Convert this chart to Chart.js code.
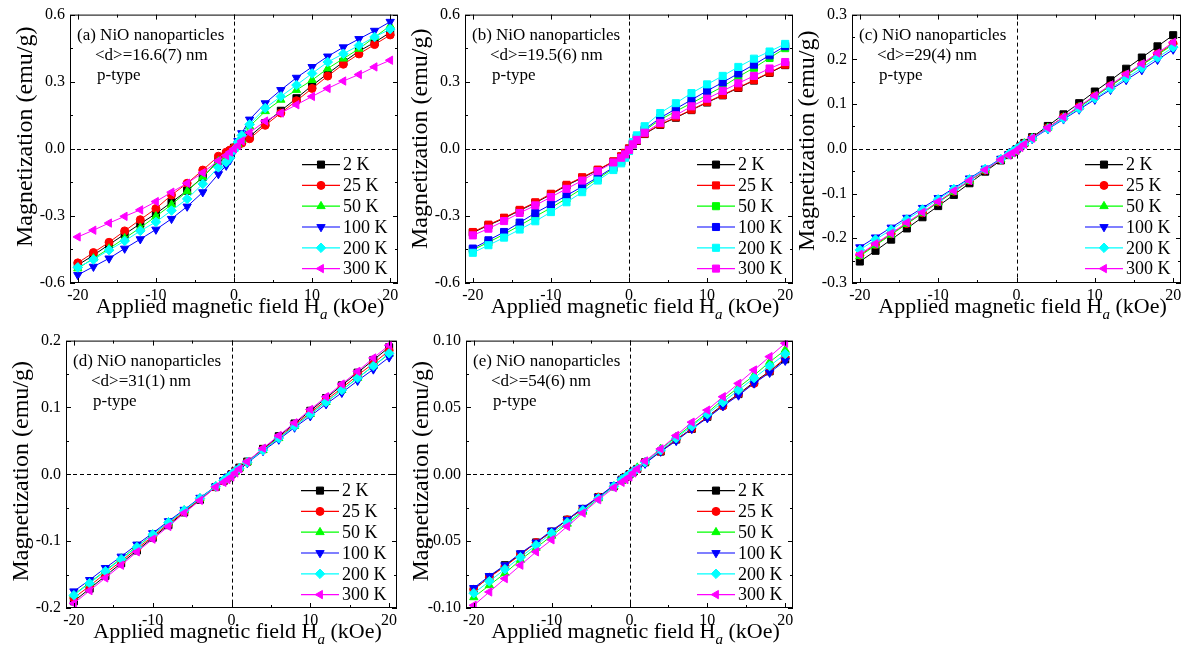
<!DOCTYPE html>
<html>
<head>
<meta charset="utf-8">
<script src="https://cdn.jsdelivr.net/npm/chart.js@4.4.1/dist/chart.umd.min.js"></script>
<style>
  html, body { margin: 0; padding: 0; background: #fff; }
  #figure { position: relative; width: 1184px; height: 658px; overflow: hidden; background: #fff; }
  #figure canvas { position: absolute; }
</style>
</head>
<body>
<div id="figure"></div>
<script>
// applied field (kOe), same sweep for every temperature
const fieldKOe = [-20, -18, -16, -14, -12, -10, -8, -6, -4, -2, -1, -0.5, 0, 0.5, 1, 2, 4, 6, 8, 10, 12, 14, 16, 18, 20];
const tempLabels = ['2 K', '25 K', '50 K', '100 K', '200 K', '300 K'];
const fieldTicks = [-20, -10, 0, 10, 20];
const fieldMinor = [-15, -5, 5, 15];

// (a) <d>=16.6(7) nm
const magA_2K   = [-0.520, -0.476, -0.428, -0.382, -0.335, -0.290, -0.239, -0.187, -0.127, -0.053, -0.025, -0.010, 0.005, 0.020, 0.035, 0.055, 0.115, 0.170, 0.226, 0.283, 0.336, 0.388, 0.436, 0.476, 0.520];
const magA_25K  = [-0.510, -0.464, -0.418, -0.367, -0.317, -0.267, -0.207, -0.154, -0.095, -0.033, -0.015, -0.005, 0.005, 0.015, 0.025, 0.045, 0.105, 0.160, 0.215, 0.270, 0.325, 0.378, 0.424, 0.466, 0.509];
const magA_50K  = [-0.535, -0.490, -0.446, -0.400, -0.353, -0.302, -0.250, -0.190, -0.127, -0.056, -0.035, -0.020, 0.000, 0.020, 0.040, 0.100, 0.168, 0.219, 0.263, 0.307, 0.359, 0.403, 0.447, 0.499, 0.550];
const magA_100K = [-0.564, -0.527, -0.490, -0.446, -0.404, -0.361, -0.313, -0.258, -0.194, -0.113, -0.075, -0.050, -0.010, 0.035, 0.070, 0.131, 0.204, 0.263, 0.318, 0.366, 0.413, 0.454, 0.491, 0.528, 0.568];
const magA_200K = [-0.530, -0.495, -0.453, -0.412, -0.367, -0.327, -0.276, -0.224, -0.157, -0.083, -0.060, -0.040, -0.005, 0.030, 0.060, 0.109, 0.182, 0.234, 0.285, 0.337, 0.388, 0.425, 0.462, 0.500, 0.535];
const magA_300K = [-0.394, -0.364, -0.332, -0.302, -0.273, -0.236, -0.194, -0.154, -0.107, -0.053, -0.030, -0.015, 0.000, 0.015, 0.035, 0.072, 0.124, 0.160, 0.197, 0.234, 0.270, 0.303, 0.332, 0.366, 0.396];

// (b) <d>=19.5(6) nm
const magB_2K   = [-0.375, -0.342, -0.311, -0.276, -0.242, -0.204, -0.164, -0.130, -0.095, -0.058, -0.035, -0.020, 0.000, 0.020, 0.035, 0.066, 0.107, 0.139, 0.173, 0.207, 0.239, 0.272, 0.305, 0.339, 0.374];
const magB_25K  = [-0.372, -0.339, -0.308, -0.273, -0.239, -0.201, -0.161, -0.127, -0.093, -0.056, -0.033, -0.018, 0.002, 0.022, 0.037, 0.068, 0.109, 0.141, 0.175, 0.209, 0.241, 0.274, 0.307, 0.341, 0.376];
const magB_50K  = [-0.452, -0.418, -0.382, -0.343, -0.303, -0.264, -0.222, -0.178, -0.133, -0.088, -0.058, -0.037, -0.007, 0.022, 0.048, 0.082, 0.130, 0.168, 0.204, 0.241, 0.278, 0.322, 0.362, 0.406, 0.450];
const magB_100K = [-0.446, -0.409, -0.372, -0.330, -0.287, -0.249, -0.209, -0.169, -0.127, -0.083, -0.055, -0.035, -0.005, 0.025, 0.050, 0.087, 0.138, 0.179, 0.219, 0.259, 0.297, 0.337, 0.376, 0.418, 0.459];
const magB_200K = [-0.465, -0.431, -0.397, -0.361, -0.324, -0.283, -0.239, -0.194, -0.142, -0.095, -0.065, -0.040, -0.010, 0.030, 0.060, 0.101, 0.160, 0.204, 0.249, 0.288, 0.326, 0.366, 0.403, 0.435, 0.469];
const magB_300K = [-0.387, -0.357, -0.323, -0.287, -0.253, -0.216, -0.179, -0.142, -0.100, -0.061, -0.040, -0.025, -0.005, 0.020, 0.040, 0.072, 0.116, 0.150, 0.190, 0.224, 0.259, 0.293, 0.326, 0.359, 0.388];

// (c) <d>=29(4) nm
const magC_2K   = [-0.252, -0.228, -0.203, -0.178, -0.153, -0.128, -0.103, -0.077, -0.051, -0.026, -0.014, -0.008, -0.001, 0.006, 0.013, 0.026, 0.051, 0.077, 0.102, 0.128, 0.153, 0.179, 0.204, 0.229, 0.254];
const magC_25K  = [-0.238, -0.214, -0.190, -0.167, -0.143, -0.119, -0.095, -0.071, -0.048, -0.024, -0.013, -0.007, -0.001, 0.006, 0.012, 0.024, 0.047, 0.071, 0.094, 0.118, 0.141, 0.165, 0.188, 0.212, 0.235];
const magC_50K  = [-0.240, -0.216, -0.192, -0.168, -0.144, -0.120, -0.096, -0.072, -0.048, -0.024, -0.013, -0.007, -0.001, 0.006, 0.012, 0.024, 0.047, 0.070, 0.093, 0.117, 0.140, 0.164, 0.187, 0.210, 0.233];
const magC_100K = [-0.220, -0.198, -0.176, -0.154, -0.132, -0.110, -0.088, -0.066, -0.044, -0.022, -0.012, -0.006, 0.000, 0.005, 0.011, 0.022, 0.044, 0.066, 0.088, 0.110, 0.132, 0.154, 0.176, 0.199, 0.222];
const magC_200K = [-0.226, -0.203, -0.181, -0.158, -0.136, -0.113, -0.090, -0.068, -0.045, -0.023, -0.012, -0.006, 0.000, 0.006, 0.011, 0.023, 0.045, 0.068, 0.090, 0.113, 0.135, 0.158, 0.181, 0.204, 0.227];
const magC_300K = [-0.236, -0.212, -0.189, -0.165, -0.142, -0.118, -0.094, -0.071, -0.047, -0.024, -0.014, -0.009, -0.004, 0.003, 0.010, 0.024, 0.047, 0.071, 0.095, 0.119, 0.143, 0.167, 0.190, 0.214, 0.238];

// (d) <d>=31(1) nm
const magD_2K   = [-0.190, -0.171, -0.152, -0.133, -0.114, -0.095, -0.076, -0.057, -0.038, -0.019, -0.010, -0.005, 0.000, 0.005, 0.010, 0.019, 0.038, 0.057, 0.076, 0.095, 0.114, 0.133, 0.152, 0.171, 0.190];
const magD_25K  = [-0.185, -0.167, -0.148, -0.130, -0.111, -0.093, -0.074, -0.056, -0.037, -0.019, -0.010, -0.005, 0.000, 0.005, 0.009, 0.018, 0.037, 0.055, 0.074, 0.092, 0.111, 0.129, 0.148, 0.166, 0.185];
const magD_50K  = [-0.180, -0.162, -0.144, -0.126, -0.108, -0.090, -0.072, -0.054, -0.036, -0.018, -0.009, -0.005, 0.000, 0.004, 0.009, 0.018, 0.036, 0.054, 0.072, 0.090, 0.108, 0.126, 0.144, 0.162, 0.180];
const magD_100K = [-0.175, -0.158, -0.140, -0.123, -0.105, -0.088, -0.070, -0.053, -0.035, -0.018, -0.009, -0.004, 0.000, 0.004, 0.009, 0.017, 0.035, 0.052, 0.070, 0.087, 0.105, 0.122, 0.140, 0.157, 0.175];
const magD_200K = [-0.181, -0.163, -0.145, -0.127, -0.109, -0.090, -0.072, -0.054, -0.036, -0.018, -0.009, -0.005, 0.000, 0.005, 0.009, 0.018, 0.036, 0.054, 0.072, 0.090, 0.108, 0.126, 0.144, 0.162, 0.181];
const magD_300K = [-0.193, -0.174, -0.155, -0.136, -0.116, -0.097, -0.078, -0.058, -0.039, -0.019, -0.012, -0.008, -0.004, 0.002, 0.008, 0.019, 0.039, 0.058, 0.077, 0.097, 0.116, 0.135, 0.154, 0.174, 0.193];

// (e) <d>=54(6) nm
const magE_2K   = [-0.086, -0.077, -0.068, -0.060, -0.051, -0.043, -0.034, -0.026, -0.017, -0.009, -0.004, -0.002, 0.000, 0.002, 0.004, 0.009, 0.017, 0.026, 0.034, 0.043, 0.052, 0.060, 0.069, 0.077, 0.086];
const magE_25K  = [-0.086, -0.077, -0.069, -0.060, -0.051, -0.043, -0.034, -0.026, -0.017, -0.009, -0.004, -0.002, 0.000, 0.002, 0.004, 0.009, 0.017, 0.026, 0.034, 0.043, 0.051, 0.060, 0.068, 0.077, 0.087];
const magE_50K  = [-0.092, -0.083, -0.074, -0.064, -0.055, -0.046, -0.037, -0.028, -0.018, -0.009, -0.005, -0.002, 0.000, 0.002, 0.005, 0.009, 0.019, 0.028, 0.037, 0.046, 0.056, 0.065, 0.074, 0.084, 0.093];
const magE_100K = [-0.085, -0.076, -0.068, -0.059, -0.051, -0.042, -0.034, -0.025, -0.017, -0.008, -0.004, -0.002, 0.000, 0.002, 0.004, 0.008, 0.017, 0.025, 0.034, 0.042, 0.051, 0.059, 0.068, 0.076, 0.085];
const magE_200K = [-0.089, -0.080, -0.071, -0.062, -0.053, -0.044, -0.036, -0.027, -0.018, -0.009, -0.004, -0.002, 0.000, 0.002, 0.004, 0.009, 0.018, 0.027, 0.036, 0.045, 0.054, 0.063, 0.072, 0.081, 0.090];
const magE_300K = [-0.098, -0.088, -0.078, -0.068, -0.058, -0.049, -0.039, -0.029, -0.019, -0.010, -0.006, -0.004, -0.002, 0.001, 0.004, 0.010, 0.019, 0.029, 0.039, 0.048, 0.058, 0.068, 0.078, 0.088, 0.098];

// magnetization ticks (major carry labels, minor are bare marks)
const magTicksAB = [-0.6, -0.3, 0, 0.3, 0.6];
const magMinorAB = [-0.45, -0.15, 0.15, 0.45];
const magTicksC  = [-0.3, -0.2, -0.1, 0, 0.1, 0.2, 0.3];
const magMinorC  = [-0.25, -0.15, -0.05, 0.05, 0.15, 0.25];
const magTicksD  = [-0.2, -0.1, 0, 0.1, 0.2];
const magMinorD  = [-0.15, -0.05, 0.05, 0.15];
const magTicksE  = [-0.1, -0.05, 0, 0.05, 0.1];
const magMinorE  = [-0.075, -0.025, 0.025, 0.075];

// ---- styling ----
const serif = '"Liberation Serif", "Times New Roman", serif';
const seriesColors = ['#000000', '#ff0000', '#00ff00', '#0000ff', '#00ffff', '#ff00ff'];
const mixedMarkers = [
  { style: 'rect', rot: 0, r: 5 },
  { style: 'circle', rot: 0, r: 4 },
  { style: 'triangle', rot: 0, r: 4.8 },
  { style: 'triangle', rot: 180, r: 4.8 },
  { style: 'rectRot', rot: 0, r: 4.8 },
  { style: 'triangle', rot: 270, r: 4.8 }
];
const squareMarkers = mixedMarkers.map(() => ({ style: 'rect', rot: 0, r: 5 }));

const AXIS_W = 70, PAD_TOP = 12, PAD_RIGHT = 10, AXIS_H = 50;

// titleShift moves the vertical axis title up from the plot centre
const panels = [
  { box: [70, 12, 398, 283], yMin: -0.6, yMax: 0.6, yTicks: magTicksAB, yMinor: magMinorAB, digits: 1, titleShift: 12,
    series: [magA_2K, magA_25K, magA_50K, magA_100K, magA_200K, magA_300K], markers: mixedMarkers,
    caption: ['(a) NiO nanoparticles', '<d>=16.6(7) nm', 'p-type'] },
  { box: [465, 12, 793, 283], yMin: -0.6, yMax: 0.6, yTicks: magTicksAB, yMinor: magMinorAB, digits: 1, titleShift: 10,
    series: [magB_2K, magB_25K, magB_50K, magB_100K, magB_200K, magB_300K], markers: squareMarkers,
    caption: ['(b) NiO nanoparticles', '<d>=19.5(6) nm', 'p-type'] },
  { box: [852, 12, 1181, 283], yMin: -0.3, yMax: 0.3, yTicks: magTicksC, yMinor: magMinorC, digits: 1, titleShift: 8,
    series: [magC_2K, magC_25K, magC_50K, magC_100K, magC_200K, magC_300K], markers: mixedMarkers,
    caption: ['(c) NiO nanoparticles', '<d>=29(4) nm', 'p-type'] },
  { box: [66, 338, 397, 608], yMin: -0.2, yMax: 0.2, yTicks: magTicksD, yMinor: magMinorD, digits: 1, titleShift: 3,
    series: [magD_2K, magD_25K, magD_50K, magD_100K, magD_200K, magD_300K], markers: mixedMarkers,
    caption: ['(d) NiO nanoparticles', '<d>=31(1) nm', 'p-type'] },
  { box: [466, 338, 793, 608], yMin: -0.1, yMax: 0.1, yTicks: magTicksE, yMinor: magMinorE, digits: 2, titleShift: 3,
    series: [magE_2K, magE_25K, magE_50K, magE_100K, magE_200K, magE_300K], markers: mixedMarkers,
    caption: ['(e) NiO nanoparticles', '<d>=54(6) nm', 'p-type'] }
];

function setMarker(ctx, m, color) {
  ctx.fillStyle = color;
  ctx.strokeStyle = color;
  ctx.lineWidth = 1;
  Chart.helpers.drawPoint(ctx, { pointStyle: m.style, rotation: m.rot, radius: m.r, borderWidth: 1 }, 0, 0);
}

// frame, inward ticks, zero lines, caption, legend and axis titles
const originFrame = {
  id: 'originFrame',
  beforeDatasetsDraw(chart) {
    const { ctx, chartArea: a, scales } = chart;
    const x0 = scales.x.getPixelForValue(0);
    const y0 = scales.y.getPixelForValue(0);
    ctx.save();
    ctx.strokeStyle = '#000';
    ctx.lineWidth = 1;
    ctx.setLineDash([4, 3]);
    ctx.beginPath();
    ctx.moveTo(Math.round(x0) + 0.5, a.top);
    ctx.lineTo(Math.round(x0) + 0.5, a.bottom);
    ctx.moveTo(a.left, Math.round(y0) + 0.5);
    ctx.lineTo(a.right, Math.round(y0) + 0.5);
    ctx.stroke();
    ctx.restore();
  },
  afterDraw(chart, args, opts) {
    const { ctx, chartArea: a, scales } = chart;
    const p = opts.panel;
    ctx.save();
    ctx.strokeStyle = '#000';
    ctx.lineWidth = 1;
    ctx.setLineDash([]);
    ctx.strokeRect(a.left + 0.5, a.top + 0.5, a.right - a.left - 1, a.bottom - a.top - 1);

    ctx.beginPath();
    const xMarks = fieldTicks.map(v => [v, 5]).concat(fieldMinor.map(v => [v, 3]));
    xMarks.forEach(([v, len]) => {
      const px = Math.round(scales.x.getPixelForValue(v)) + 0.5;
      ctx.moveTo(px, a.bottom); ctx.lineTo(px, a.bottom - len);
      ctx.moveTo(px, a.top); ctx.lineTo(px, a.top + len);
    });
    const yMarks = p.yTicks.map(v => [v, 5]).concat(p.yMinor.map(v => [v, 3]));
    yMarks.forEach(([v, len]) => {
      const py = Math.round(scales.y.getPixelForValue(v)) + 0.5;
      ctx.moveTo(a.left, py); ctx.lineTo(a.left + len, py);
      ctx.moveTo(a.right, py); ctx.lineTo(a.right - len, py);
    });
    ctx.stroke();

    // caption in the upper-left corner
    ctx.fillStyle = '#000';
    ctx.font = '17px ' + serif;
    ctx.textBaseline = 'middle';
    ctx.textAlign = 'left';
    ctx.fillText(p.caption[0], a.left + 7, a.top + 21);
    ctx.fillText(p.caption[1], a.left + 25, a.top + 41);
    ctx.fillText(p.caption[2], a.left + 27, a.top + 61);

    // legend in the lower-right corner
    ctx.font = '18px ' + serif;
    tempLabels.forEach((label, i) => {
      const y = a.top + 150 + i * 20.8;
      const color = seriesColors[i];
      ctx.strokeStyle = color;
      ctx.lineWidth = 1.2;
      ctx.beginPath();
      ctx.moveTo(a.right - 96, y);
      ctx.lineTo(a.right - 58, y);
      ctx.stroke();
      ctx.save();
      ctx.translate(a.right - 77, y);
      setMarker(ctx, p.markers[i], color);
      ctx.restore();
      ctx.fillStyle = '#000';
      ctx.fillText(label, a.right - 55, y + 1);
    });

    // y title
    ctx.save();
    ctx.translate(a.left - 44, (a.top + a.bottom) / 2 - p.titleShift);
    ctx.rotate(-Math.PI / 2);
    ctx.font = '24px ' + serif;
    ctx.textAlign = 'center';
    ctx.textBaseline = 'middle';
    ctx.fillText('Magnetization (emu/g)', 0, 0);
    ctx.restore();

    // x title with italic subscript
    const main = 'Applied magnetic field H', sub = 'a', tail = ' (kOe)';
    const big = '22px ' + serif, small = 'italic 15px ' + serif;
    ctx.font = big;
    const w1 = ctx.measureText(main).width, w3 = ctx.measureText(tail).width;
    ctx.font = small;
    const w2 = ctx.measureText(sub).width;
    let tx = (a.left + a.right) / 2 + 6 - (w1 + w2 + w3) / 2;
    const base = a.bottom + 30;
    ctx.textAlign = 'left';
    ctx.textBaseline = 'alphabetic';
    ctx.font = big; ctx.fillText(main, tx, base); tx += w1;
    ctx.font = small; ctx.fillText(sub, tx, base + 6); tx += w2;
    ctx.font = big; ctx.fillText(tail, tx, base);
    ctx.restore();
  }
};

function buildPanel(p) {
  const [L, T, R, B] = p.box;
  const canvas = document.createElement('canvas');
  const w = R - L + AXIS_W + PAD_RIGHT;
  const h = B - T + PAD_TOP + AXIS_H;
  canvas.width = w; canvas.height = h;
  canvas.style.left = (L - AXIS_W) + 'px';
  canvas.style.top = (T - PAD_TOP) + 'px';
  canvas.style.width = w + 'px';
  canvas.style.height = h + 'px';
  document.getElementById('figure').appendChild(canvas);

  const tickFont = { family: serif, size: 16 };
  new Chart(canvas.getContext('2d'), {
    type: 'line',
    data: {
      datasets: p.series.map((vals, i) => {
        const m = p.markers[i];
        return {
          label: tempLabels[i],
          data: fieldKOe.map((hk, k) => ({ x: hk, y: vals[k] })),
          borderColor: seriesColors[i],
          backgroundColor: seriesColors[i],
          borderWidth: 1,
          pointStyle: m.style,
          rotation: m.rot,
          pointRadius: m.r,
          pointBorderWidth: 1,
          tension: 0,
          order: 5 - i
        };
      })
    },
    options: {
      responsive: false,
      animation: false,
      devicePixelRatio: 1,
      layout: { padding: { left: 0, top: PAD_TOP, right: PAD_RIGHT, bottom: 0 } },
      plugins: {
        legend: { display: false },
        tooltip: { enabled: false },
        originFrame: { panel: p }
      },
      scales: {
        x: {
          type: 'linear', min: -21, max: 21,
          afterFit: s => { s.height = AXIS_H; },
          afterBuildTicks: s => { s.ticks = fieldTicks.map(v => ({ value: v })); },
          grid: { display: false, drawTicks: false },
          border: { display: false },
          ticks: { font: tickFont, color: '#000', padding: 3, maxRotation: 0, autoSkip: false,
                   callback: v => String(v) }
        },
        y: {
          type: 'linear', min: p.yMin, max: p.yMax,
          afterFit: s => { s.width = AXIS_W; },
          afterBuildTicks: s => { s.ticks = p.yTicks.map(v => ({ value: v })); },
          grid: { display: false, drawTicks: false },
          border: { display: false },
          ticks: { font: tickFont, color: '#000', padding: 5, autoSkip: false,
                   callback: v => Number(v).toFixed(p.digits) }
        }
      }
    },
    plugins: [originFrame]
  });
}

document.fonts.load('16px "Liberation Serif"').then(() => panels.forEach(buildPanel));
</script>
</body>
</html>
